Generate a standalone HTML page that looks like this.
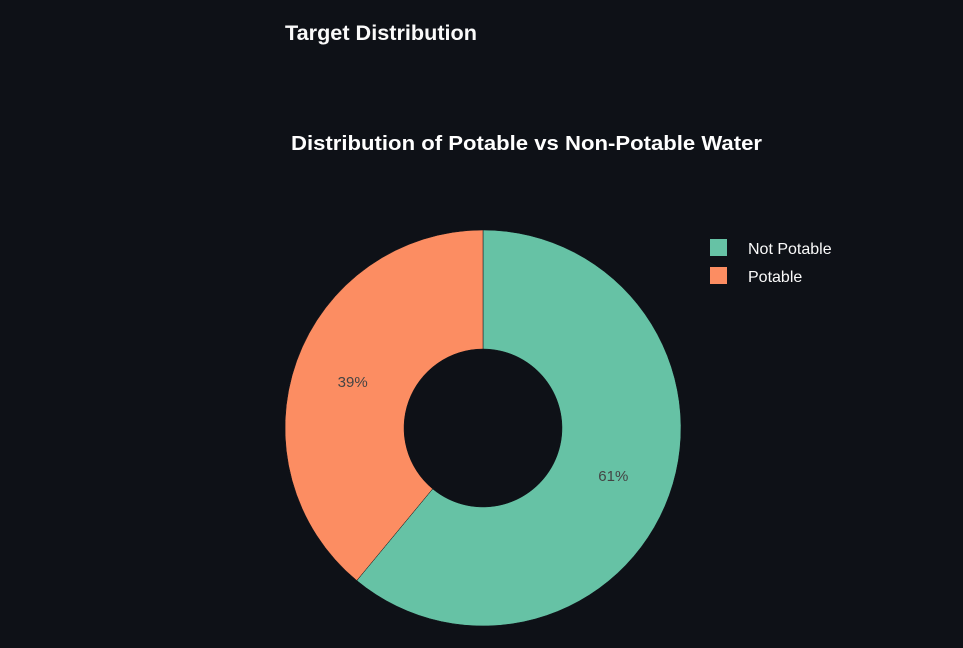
<!DOCTYPE html>
<html><head><meta charset="utf-8"><style>
html,body{margin:0;padding:0;background:#0e1117;width:963px;height:648px;overflow:hidden;font-family:"Liberation Sans",sans-serif;}
</style></head><body>
<svg id="c" width="963" height="648">
<text x="285" y="40" fill="#fafafa" font-size="21" font-weight="bold" textLength="192" lengthAdjust="spacingAndGlyphs">Target Distribution</text>
<text x="291" y="150" fill="#ffffff" font-size="20.5" font-weight="bold" textLength="471" lengthAdjust="spacingAndGlyphs">Distribution of Potable vs Non-Potable Water</text>
<g id="slices"></g>
<g id="legend"></g>
</svg>
<script>
const labels=["Not Potable","Potable"];
const values=[61,39];
const colors=["#66c2a5","#fc8d62"];
const cx=483,cy=428,R=198,r=79;
const ns="http://www.w3.org/2000/svg";
const g=document.getElementById('slices');
const total=values.reduce((a,b)=>a+b,0);
let a0=0;
function pt(rad,a){return [cx+rad*Math.sin(a),cy-rad*Math.cos(a)];}
values.forEach((v,i)=>{
  const a1=a0+v/total*2*Math.PI;
  const large=(a1-a0)>Math.PI?1:0;
  const [x0,y0]=pt(R,a0),[x1,y1]=pt(R,a1),[x2,y2]=pt(r,a1),[x3,y3]=pt(r,a0);
  const p=document.createElementNS(ns,'path');
  p.setAttribute('d',`M${x0},${y0}A${R},${R} 0 ${large} 1 ${x1},${y1}L${x2},${y2}A${r},${r} 0 ${large} 0 ${x3},${y3}Z`);
  p.setAttribute('fill',colors[i]);
  p.setAttribute('stroke','#0e1117');p.setAttribute('stroke-width','0.5');
  
  
  g.appendChild(p);
  const am=(a0+a1)/2;const [tx,ty]=pt((R+r)/2,am);
  const t=document.createElementNS(ns,'text');
  t.setAttribute('x',tx);t.setAttribute('y',ty+6);t.setAttribute('text-anchor','middle');
  t.setAttribute('fill','#444');t.setAttribute('font-size','15');
  t.textContent=Math.round(v/total*100)+'%';
  
  
  g.appendChild(t);
  a0=a1;
});
const lg=document.getElementById('legend');
labels.forEach((l,i)=>{
  const y=239+i*28;
  const rc=document.createElementNS(ns,'rect');
  rc.setAttribute('x',710);rc.setAttribute('y',y);rc.setAttribute('width',17);rc.setAttribute('height',17);
  rc.setAttribute('fill',colors[i]);
  
  
  lg.appendChild(rc);
  const t=document.createElementNS(ns,'text');
  t.setAttribute('x',748);t.setAttribute('y',y+15);t.setAttribute('fill','#fafafa');t.setAttribute('font-size','16');
  t.textContent=l;
  
  
  lg.appendChild(t);
});
</script>
</body></html>
